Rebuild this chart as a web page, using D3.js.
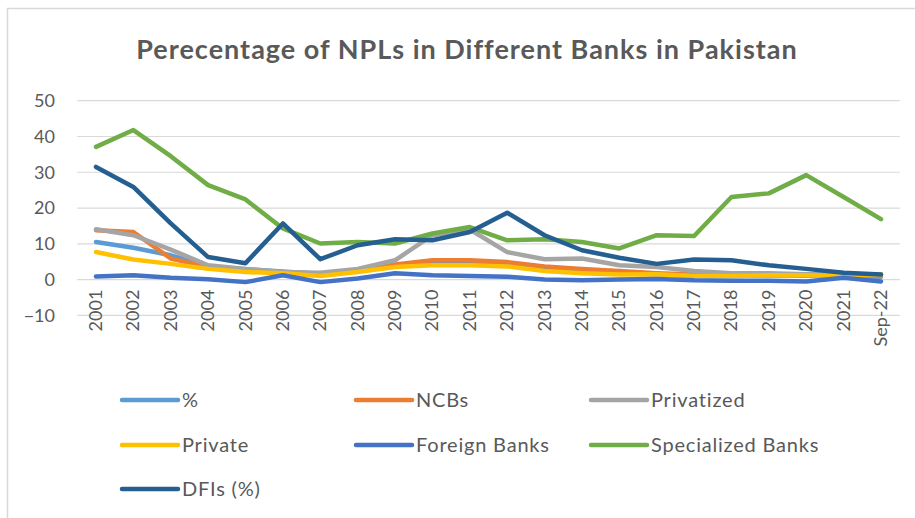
<!DOCTYPE html>
<html>
<head>
<meta charset="utf-8">
<script src="https://cdn.jsdelivr.net/npm/d3@7"></script>
<style>
  body { margin: 0; background: #fff; }
  text { font-family: Lato, "Open Sans", sans-serif; fill: #595959; }
</style>
</head>
<body>
<svg id="chart" width="915" height="518"></svg>
<script>
const categories = ["2001", "2002", "2003", "2004", "2005", "2006", "2007", "2008", "2009", "2010",
  "2011", "2012", "2013", "2014", "2015", "2016", "2017", "2018", "2019", "2020", "2021", "Sep-22"];

const pct = [10.5, 8.9, 6.8, 3.7, 2.9, 2.3, 1.6, 2.5, 4.0, 4.5, 4.3, 4.0, 2.8, 2.5, 1.8, 1.5, 1.1, 1.0, 1.2, 1.1, 1.0, 0.8];
const ncbs = [13.8, 13.3, 5.9, 3.5, 2.5, 2.0, 1.5, 2.5, 4.2, 5.4, 5.4, 4.9, 3.7, 3.0, 2.4, 1.8, 1.4, 1.2, 1.4, 1.2, 1.3, 1.0];
const privatized = [14.1, 12.4, 8.4, 4.0, 3.0, 2.1, 1.9, 3.0, 5.4, 12.4, 14.0, 7.7, 5.7, 5.9, 4.0, 3.5, 2.4, 1.8, 1.8, 1.5, 1.5, 1.5];
const privateBanks = [7.7, 5.6, 4.4, 3.0, 2.1, 1.8, 1.0, 2.1, 3.5, 4.0, 4.0, 3.7, 2.4, 1.8, 1.4, 1.5, 1.0, 1.0, 1.2, 1.2, 1.0, 1.4];
const foreignBanks = [0.9, 1.2, 0.5, 0.1, -0.7, 1.2, -0.7, 0.3, 1.8, 1.2, 1.0, 0.8, 0.0, -0.2, 0.0, 0.2, -0.2, -0.3, -0.3, -0.5, 0.5, -0.5];
const specializedBanks = [37.1, 41.8, 34.5, 26.4, 22.4, 14.3, 10.1, 10.5, 10.1, 12.9, 14.7, 11.0, 11.3, 10.5, 8.7, 12.4, 12.2, 23.1, 24.1, 29.2, 23.1, 16.9];
const dfis = [31.5, 25.9, 15.7, 6.3, 4.6, 15.7, 5.7, 9.6, 11.3, 11.0, 13.3, 18.7, 12.4, 8.2, 6.1, 4.4, 5.6, 5.4, 4.0, 3.0, 1.9, 1.4];

const yTicks = [-10, 0, 10, 20, 30, 40, 50];

const series = [
  { name: "%", values: pct, color: "#5B9BD5" },
  { name: "NCBs", values: ncbs, color: "#ED7D31" },
  { name: "Privatized", values: privatized, color: "#A5A5A5" },
  { name: "Private", values: privateBanks, color: "#FFC000" },
  { name: "Foreign Banks", values: foreignBanks, color: "#4472C4" },
  { name: "Specialized Banks", values: specializedBanks, color: "#70AD47" },
  { name: "DFIs (%)", values: dfis, color: "#255E91" },
];

const svg = d3.select("#chart");

// outer chart border
svg.append("rect")
  .attr("x", 7.5).attr("y", 8.5)
  .attr("width", 940).attr("height", 540)
  .attr("fill", "none")
  .attr("stroke", "#d9d9d9")
  .attr("stroke-width", 1.5);

svg.append("text")
  .attr("x", 467).attr("y", 59)
  .attr("text-anchor", "middle")
  .style("font-size", "27px")
  .style("font-weight", "bold")
  .style("letter-spacing", "1px")
  .text("Perecentage of NPLs in Different Banks in Pakistan");

const xScale = d3.scaleBand()
  .domain(categories)
  .range([77.3, 899.7]);

const yScale = d3.scaleLinear()
  .domain([-10, 50])
  .range([315.4, 100.7]);

// gridlines
svg.append("g")
  .selectAll("line")
  .data(yTicks)
  .join("line")
  .attr("x1", 77.3).attr("x2", 899.7)
  .attr("y1", (d) => yScale(d)).attr("y2", (d) => yScale(d))
  .attr("stroke", "#d9d9d9")
  .attr("stroke-width", 1.2);

// y axis labels
const yAxis = d3.axisLeft(yScale).tickValues(yTicks).tickSize(0).tickPadding(0);
svg.append("g")
  .attr("transform", "translate(55,0)")
  .call(yAxis)
  .call((g) => g.select(".domain").remove())
  .selectAll("text")
  .style("font-size", "18px")
  .style("font-family", "Lato, sans-serif")
  .attr("fill", "#595959");

// x axis labels, rotated
const xAxis = d3.axisBottom(xScale).tickSize(0).tickPadding(0);
svg.append("g")
  .attr("transform", `translate(0,${yScale(0)})`)
  .call(xAxis)
  .call((g) => g.select(".domain").remove())
  .selectAll("text")
  .style("font-size", "18px")
  .style("font-family", "Lato, sans-serif")
  .attr("fill", "#595959")
  .attr("text-anchor", "end")
  .attr("dy", null)
  .attr("y", 0)
  .attr("transform", "translate(6,10) rotate(-90)");

const line = d3.line()
  .x((d, i) => xScale(categories[i]) + xScale.bandwidth() / 2)
  .y((d) => yScale(d));

svg.append("g")
  .selectAll("path")
  .data(series)
  .join("path")
  .attr("d", (s) => line(s.values))
  .attr("fill", "none")
  .attr("stroke", (s) => s.color)
  .attr("stroke-width", 4.5)
  .attr("stroke-linejoin", "round")
  .attr("stroke-linecap", "round");

// legend
const legendX = [122, 356, 591];
const legendY = [400, 445, 489];
const legend = svg.append("g")
  .selectAll("g")
  .data(series)
  .join("g")
  .attr("transform", (s, i) => `translate(${legendX[i % 3]},${legendY[Math.floor(i / 3)]})`);

legend.append("line")
  .attr("x1", 0).attr("x2", 56)
  .attr("stroke", (s) => s.color)
  .attr("stroke-width", 4.5)
  .attr("stroke-linecap", "round");

legend.append("text")
  .attr("x", 60)
  .attr("dy", "0.35em")
  .style("font-size", "20px")
  .style("letter-spacing", "0.8px")
  .text((s) => s.name);
</script>
</body>
</html>
